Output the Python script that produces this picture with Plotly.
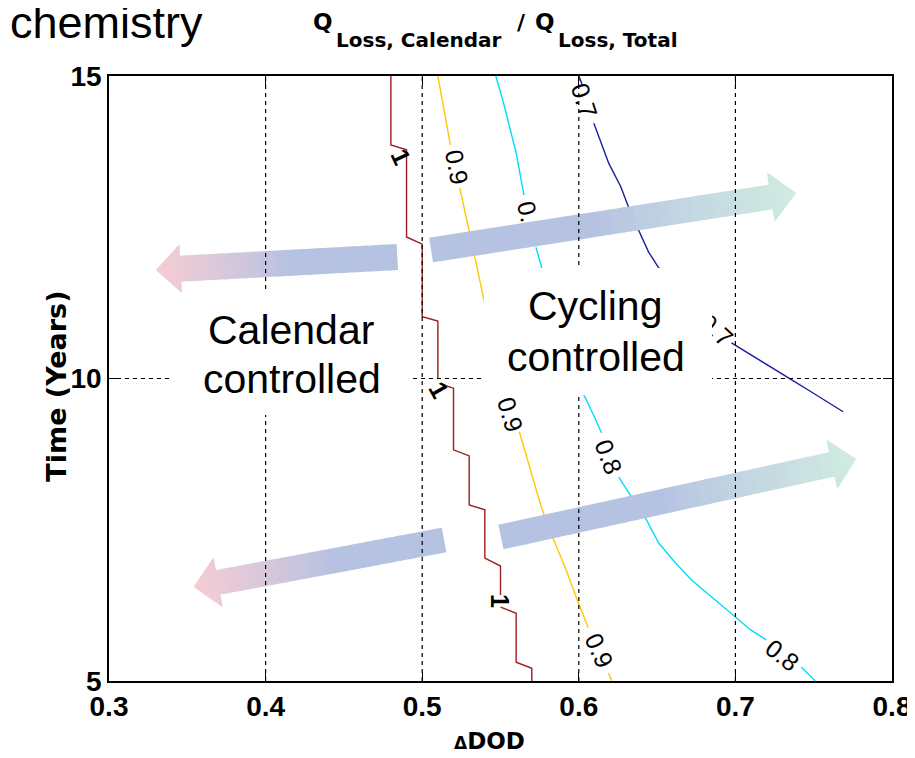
import math
import plotly.graph_objects as go

# ---------------- data ----------------
x_ticks = [0.3, 0.4, 0.5, 0.6, 0.7, 0.8]
y_ticks = [5, 10, 15]
x_tick_labels = ["0.3", "0.4", "0.5", "0.6", "0.7", "0.8"]
y_tick_labels = ["5", "10", "15"]

# contour level 1.0 (dark red step line)
lvl10_x = [0.48, 0.48, 0.49, 0.49, 0.50, 0.50, 0.51, 0.51, None, 0.515, 0.52, 0.52, 0.53, 0.53,
           0.54, 0.54, 0.55, 0.55, None, 0.55, 0.56, 0.56, 0.57, 0.57]
lvl10_y = [15, 13.86, 13.78, 12.34, 12.22, 11.02, 10.95, 10.0, None, 9.88, 9.84, 8.82, 8.72, 7.91,
           7.83, 7.03, 6.90, 6.42, None, 6.22, 6.12, 5.31, 5.21, 5.0]
# contour level 0.9 (yellow)
lvl09_x = [0.510, 0.515, 0.518, None, 0.524, 0.529, 0.534, 0.539, 0.546, 0.5545, None,
           0.562, 0.569, 0.576, 0.584, 0.592, 0.599, 0.606, None, 0.619, 0.621]
lvl09_y = [15, 14.27, 13.86, None, 13.15, 12.57, 11.96, 11.35, 10.55, 9.74, None,
           9.12, 8.49, 7.88, 7.33, 6.83, 6.34, 5.88, None, 5.13, 5.0]
# contour level 0.8 (cyan)
lvl08_x = [0.547, 0.552, 0.560, 0.565, None, 0.5726, 0.5764, 0.589, 0.602, 0.605, 0.6146, None,
           0.6255, 0.6338, 0.6433, 0.651, 0.6618, 0.672, 0.681, 0.700, 0.710, 0.7197, None, 0.742, 0.751]
lvl08_y = [15, 14.55, 13.73, 13.03, None, 12.17, 11.83, 10.80, 9.78, 9.64, 9.10, None,
           8.37, 8.04, 7.66, 7.28, 6.95, 6.67, 6.47, 6.06, 5.84, 5.68, None, 5.23, 5.0]
# contour level 0.7 (dark blue)
lvl07_x = [0.600, 0.602, None, 0.6096, 0.6191, 0.6268, 0.6318, 0.6382, 0.6446, 0.651, 0.6764, None,
           0.6975, 0.7147, 0.7357, 0.7465, 0.7688]
lvl07_y = [15, 14.87, None, 14.22, 13.56, 13.17, 12.83, 12.45, 12.09, 11.83, 11.13, None,
           10.59, 10.31, 9.98, 9.81, 9.45]

# contour labels: text, x, y, angle
label_text = ["1", "1", "1", "0.9", "0.9", "0.9", "0.", "0.8", "0.8", "0.7", "0.7"]
label_x = [0.4866, 0.5108, 0.5497, 0.5223, 0.5561, 0.6134, 0.5675, 0.6191, 0.7300, 0.6038, 0.6879]
label_y = [13.66, 9.81, 6.32, 13.50, 9.41, 5.50, 12.75, 8.70, 5.43, 14.59, 10.80]
label_angle = [65, 60, 90, 79, 73, 66, 77, 69, 38, 72, 42]
label_bold = [True, True, True, False, False, False, False, False, False, False, False]

# region text
region_text = ["Calendar", "controlled", "Cycling", "controlled"]
region_x = [0.4159, 0.4166, 0.6105, 0.6112]
region_y = [10.80, 9.99, 11.20, 10.36]

# ---------------- layout constants ----------------
W, H = 915, 758
PAGE_OFF = 8                      # default body margin of the html page
SL, ST, SR, SB = 109, 76, 894, 681  # plot area on screen
PW, PH = SR - SL, SB - ST
ML, MT = SL - PAGE_OFF, ST - PAGE_OFF
MR, MB = W - ML - PW, H - MT - PH
X0, X1 = x_ticks[0], x_ticks[-1]
Y0, Y1 = y_ticks[0], y_ticks[-1]
PXX = PW / (X1 - X0)
PXY = PH / (Y1 - Y0)


def to_px(x, y):
    return ((x - X0) * PXX, (Y1 - y) * PXY)


def to_data(px, py):
    return (X0 + px / PXX, Y1 - py / PXY)


def pxpaper(px, py):
    return ((px - SL) / PW, (SB - py) / PH)


fig = go.Figure()

line_specs = [
    (lvl10_x, lvl10_y, "#9c1e1e"),
    (lvl09_x, lvl09_y, "#ffc800"),
    (lvl08_x, lvl08_y, "#00dcff"),
    (lvl07_x, lvl07_y, "#1c1ca0"),
]
for xs, ys, col in line_specs:
    fig.add_trace(go.Scatter(x=xs, y=ys, mode="lines", line=dict(color=col, width=1.4),
                             connectgaps=False, hoverinfo="skip", showlegend=False))

# ---------------- gradient arrows (shapes) ----------------
BLUE = (182, 194, 226)
PINK = (246, 205, 211)
MINT = (208, 236, 225)

arrows = [
    # tail (data), tip (data), shaft width px, head width px, head length px, end colour
    ((0.4841, 12.008), (0.3299, 11.793), 26, 49, 25, PINK),
    ((0.5057, 12.124), (0.7389, 13.066), 25, 50, 26, MINT),
    ((0.5140, 7.331), (0.3541, 6.554), 25, 51, 25, PINK),
    ((0.5503, 7.380), (0.7771, 8.669), 25, 51, 25, MINT),
]


def mix(a, b, t):
    return "rgb(%d,%d,%d)" % tuple(round(a[i] + (b[i] - a[i]) * t) for i in range(3))


shapes = []
for tail, tip, sw, hw, hl, cend in arrows:
    tx, ty = to_px(*tail)
    qx, qy = to_px(*tip)
    L = math.hypot(qx - tx, qy - ty)
    ux, uy = (qx - tx) / L, (qy - ty) / L
    nx, ny = -uy, ux
    sb = L - hl
    ns, nh = 30, 10
    segs = [(sb * i / ns, sb * (i + 1) / ns, False) for i in range(ns)]
    segs += [(sb + hl * i / nh, sb + hl * (i + 1) / nh, True) for i in range(nh)]
    for k, (s0, s1, head) in enumerate(segs):
        s1e = min(s1 + 0.9, L)
        if head:
            h0 = hw / 2 * (L - s0) / hl
            h1 = hw / 2 * (L - s1e) / hl
        else:
            h0 = h1 = sw / 2
        pts = []
        for s, h, sg in ((s0, h0, 1), (s1e, h1, 1), (s1e, h1, -1), (s0, h0, -1)):
            cx, cy = tx + ux * s, ty + uy * s
            pts.append(to_data(cx + sg * nx * h, cy + sg * ny * h))
        t = ((s0 + s1) / 2) / L
        tt = 0 if t < 0.45 else (t - 0.45) / 0.55
        col = mix(BLUE, cend, min(1, tt ** 0.9))
        path = "M %f %f L %f %f L %f %f L %f %f Z" % tuple(v for p in pts for v in p)
        shapes.append(dict(type="path", path=path, xref="x", yref="y", fillcolor=col,
                           line=dict(width=0), layer="above"))

# dashed grid drawn above the arrows
for xv in x_ticks[1:-1]:
    shapes.append(dict(type="line", xref="x", yref="y", x0=xv, x1=xv, y0=Y0, y1=Y1,
                       line=dict(color="black", width=1.2, dash="4px,4px"), layer="above"))
for yv in y_ticks[1:-1]:
    shapes.append(dict(type="line", xref="x", yref="y", x0=X0, x1=X1, y0=yv, y1=yv,
                       line=dict(color="black", width=1.2, dash="4px,4px"), layer="above"))

# ---------------- annotations ----------------
ann = []
for t, x, y, a, b in zip(label_text, label_x, label_y, label_angle, label_bold):
    ann.append(dict(text=t, x=x, y=y, xref="x", yref="y", showarrow=False, textangle=a,
                    font=dict(family="Liberation Sans", size=25, color="black",
                              weight="bold" if b else "normal")))

# white boxes behind region text (hide grid & lines)
for cx, cy, bw, bh in ((292, 353.5, 240, 123), (599, 331.5, 228, 127)):
    px_, py_ = pxpaper(cx, cy)
    ann.append(dict(text=" ", x=px_, y=py_, xref="paper", yref="paper", showarrow=False,
                    width=bw, height=bh, bgcolor="white", borderpad=0, borderwidth=0,
                    xanchor="center", yanchor="middle", font=dict(size=10)))
for t, x, y in zip(region_text, region_x, region_y):
    ann.append(dict(text=t, x=x, y=y, xref="x", yref="y", showarrow=False,
                    font=dict(family="Liberation Sans", size=41, color="black")))

# title pieces
title_parts = [
    ("Q", 23, 312, 22),
    ("Loss, Calendar", 20, 335, 40),
    ("/", 22, 516, 22),
    ("Q", 23, 534, 22),
    ("Loss, Total", 20, 557, 40),
]
for t, sz, lx, cy in title_parts:
    px_, py_ = pxpaper(lx, cy)
    ann.append(dict(text=t, x=px_, y=py_, xref="paper", yref="paper", showarrow=False,
                    xanchor="left", yanchor="middle",
                    font=dict(family="DejaVu Sans", size=sz, color="black", weight="bold")))

# top-left cropped word
px_, py_ = pxpaper(205, 23)
ann.append(dict(text="chemistry", x=px_, y=py_, xref="paper", yref="paper", showarrow=False,
                xanchor="right", yanchor="middle",
                font=dict(family="Liberation Sans", size=45, color="black")))

# axis titles
px_, py_ = pxpaper(38, 386)
ann.append(dict(text="Time (Years)", x=px_, y=py_, xref="paper", yref="paper", showarrow=False,
                textangle=-90, font=dict(family="DejaVu Sans", size=27, color="black", weight="bold")))
px_, py_ = pxpaper(490, 756)
ann.append(dict(text="<span style='font-size:17px'>Δ</span>DOD", x=px_, y=py_, xref="paper",
                yref="paper", showarrow=False,
                font=dict(family="DejaVu Sans", size=23, color="black", weight="bold")))

axis_common = dict(showline=True, linecolor="black", linewidth=1.5, mirror="ticks",
                   ticks="inside", ticklen=9, tickwidth=1.2, tickcolor="black",
                   showgrid=False, zeroline=False,
                   tickfont=dict(family="Liberation Sans", size=28, color="black", weight="bold"))

fig.update_layout(
    width=W, height=H, autosize=False,
    margin=dict(l=ML, r=MR, t=MT, b=MB),
    paper_bgcolor="white", plot_bgcolor="white",
    showlegend=False,
    xaxis=dict(range=[X0, X1], tickvals=x_ticks, ticktext=x_tick_labels, **axis_common),
    yaxis=dict(range=[Y0, Y1], tickvals=y_ticks, ticktext=y_tick_labels, **axis_common),
    shapes=shapes,
    annotations=ann,
)

fig.write_html("out.html")
